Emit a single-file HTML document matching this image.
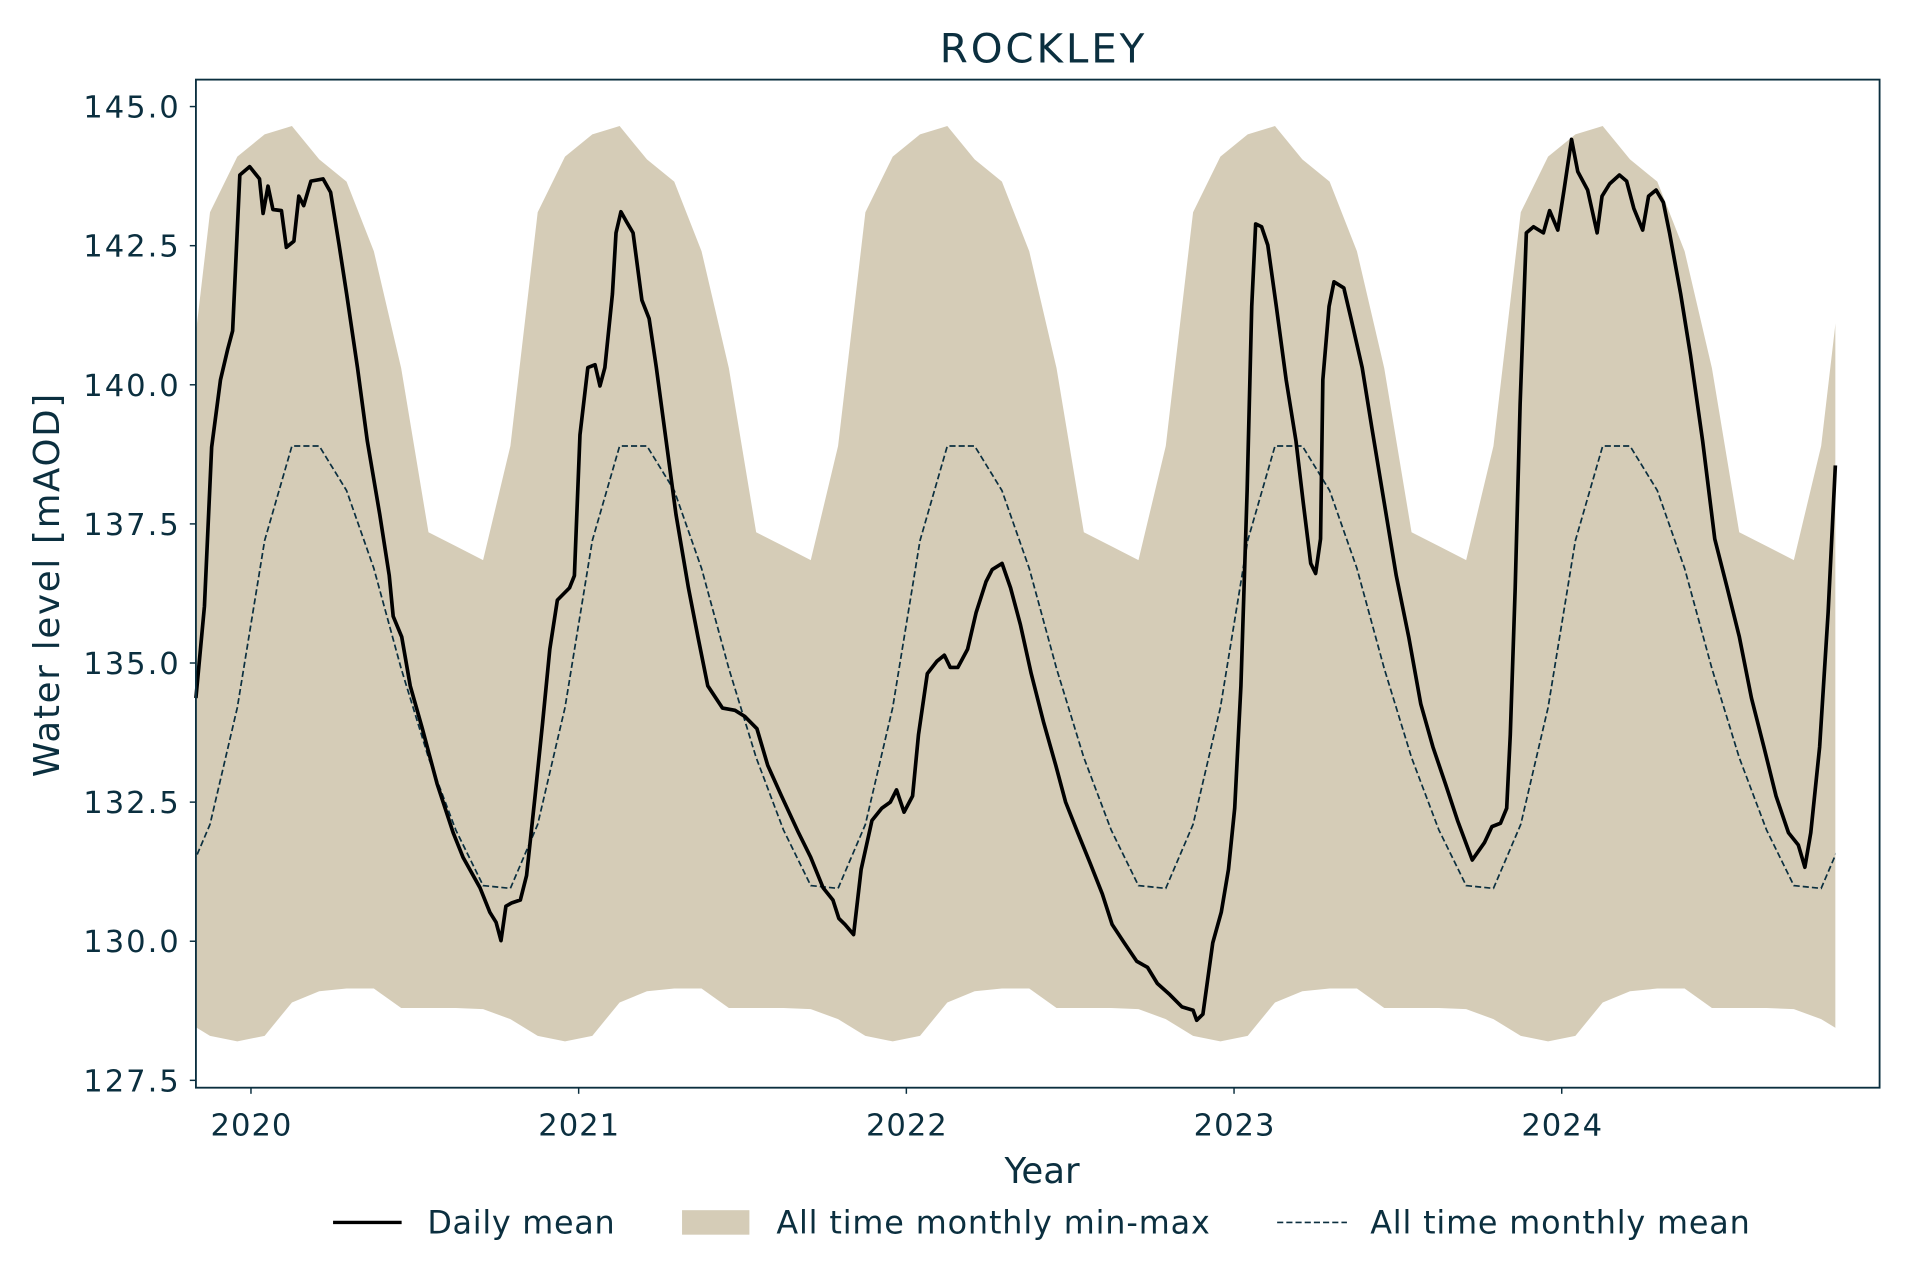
<!DOCTYPE html>
<html><head><meta charset="utf-8"><style>
html,body{margin:0;padding:0;background:#fff;}
svg{display:block;font-family:"DejaVu Sans","Liberation Sans",sans-serif;}
</style></head><body>
<svg id="chart" width="1920" height="1280" viewBox="0 0 1568 1045" preserveAspectRatio="none" xmlns="http://www.w3.org/2000/svg">
<defs><clipPath id="bandclip"><rect id="bandclipRect" x="0" y="0" width="0" height="1045"/></clipPath></defs>
<text x="851" y="51" text-anchor="middle" font-size="33" textLength="167" fill="#0b2f3f">ROCKLEY</text>
<g id="plot"></g>
<rect x="160" y="65" width="1375" height="823" fill="none" stroke="#0b2f3f" stroke-width="1.5"/>
<g id="axes"></g>
<text x="851" y="966" text-anchor="middle" font-size="29" fill="#0b2f3f">Year</text>
<text transform="translate(48,478) rotate(-90)" text-anchor="middle" font-size="29" textLength="313" fill="#0b2f3f">Water level [mAOD]</text>
<g>
 <g>
  <line x1="272" y1="998" x2="328" y2="998" stroke="#000" stroke-width="2.8"/>
  <text x="349" y="1007" font-size="26" textLength="153" fill="#0b2f3f">Daily mean</text>
 </g>
 <g>
  <rect x="557" y="988" width="55" height="20" fill="#d5ccb7"/>
  <text x="634" y="1007" font-size="26" textLength="354" fill="#0b2f3f">All time monthly min-max</text>
 </g>
 <g>
  <line x1="1043" y1="998" x2="1100" y2="998" stroke="#0b2f3f" stroke-width="1.4" stroke-dasharray="5,2.5"/>
  <text x="1119" y="1007" font-size="26" textLength="310" fill="#0b2f3f">All time monthly mean</text>
 </g>
</g>
</svg>
<script>
const monthlyMax=[144.5,144.65,144.05,143.65,142.4,140.3,137.35,137.1,136.85,138.9,143.1,144.1];
const monthlyMin=[128.3,128.9,129.1,129.15,129.15,128.8,128.8,128.8,128.78,128.6,128.3,128.2];
const monthlyMean=[137.2,138.9,138.9,138.1,136.7,134.9,133.3,132.0,131.0,130.95,132.1,134.2];
const yTicks=[127.5,130.0,132.5,135.0,137.5,140.0,142.5,145.0];
const xTicks=[2020,2021,2022,2023,2024];
const dailyDates=[2019.832,2019.858,2019.88,2019.907,2019.929,2019.944,2019.966,2019.996,2020.026,2020.037,2020.052,2020.067,2020.093,2020.108,2020.131,2020.146,2020.161,2020.183,2020.22,2020.243,2020.269,2020.292,2020.325,2020.355,2020.393,2020.422,2020.434,2020.46,2020.486,2020.523,2020.568,2020.617,2020.647,2020.699,2020.729,2020.748,2020.763,2020.778,2020.796,2020.822,2020.841,2020.867,2020.89,2020.912,2020.935,2020.972,2020.987,2021.004,2021.028,2021.05,2021.065,2021.08,2021.103,2021.114,2021.129,2021.148,2021.166,2021.193,2021.215,2021.237,2021.267,2021.297,2021.335,2021.364,2021.394,2021.439,2021.477,2021.507,2021.544,2021.577,2021.619,2021.671,2021.708,2021.746,2021.776,2021.794,2021.813,2021.839,2021.862,2021.895,2021.925,2021.951,2021.97,2021.993,2022.019,2022.037,2022.064,2022.093,2022.116,2022.134,2022.157,2022.187,2022.213,2022.243,2022.262,2022.292,2022.318,2022.348,2022.381,2022.419,2022.456,2022.486,2022.523,2022.561,2022.598,2022.628,2022.665,2022.703,2022.736,2022.766,2022.804,2022.841,2022.875,2022.886,2022.905,2022.935,2022.961,2022.983,2023.002,2023.021,2023.04,2023.054,2023.066,2023.084,2023.103,2023.129,2023.159,2023.189,2023.211,2023.234,2023.249,2023.264,2023.271,2023.29,2023.305,2023.335,2023.357,2023.391,2023.421,2023.458,2023.495,2023.533,2023.57,2023.607,2023.645,2023.682,2023.727,2023.764,2023.787,2023.813,2023.832,2023.843,2023.858,2023.873,2023.892,2023.914,2023.944,2023.963,2023.988,2024.007,2024.03,2024.049,2024.079,2024.108,2024.123,2024.146,2024.176,2024.198,2024.22,2024.247,2024.265,2024.288,2024.31,2024.329,2024.363,2024.393,2024.43,2024.467,2024.505,2024.542,2024.579,2024.617,2024.654,2024.692,2024.722,2024.742,2024.76,2024.787,2024.813,2024.835];
const dailyValues=[134.37,136.02,138.88,140.09,140.64,140.97,143.77,143.92,143.70,143.08,143.57,143.15,143.13,142.47,142.58,143.39,143.22,143.66,143.70,143.46,142.51,141.63,140.31,138.99,137.67,136.57,135.84,135.47,134.59,133.82,132.83,131.95,131.51,130.96,130.52,130.34,130.01,130.63,130.69,130.74,131.18,132.61,133.93,135.25,136.13,136.35,136.57,139.10,140.31,140.36,139.98,140.31,141.63,142.73,143.11,142.91,142.73,141.52,141.19,140.31,138.99,137.67,136.35,135.47,134.59,134.19,134.15,134.04,133.82,133.16,132.61,131.95,131.51,130.96,130.74,130.41,130.30,130.12,131.29,132.17,132.39,132.50,132.72,132.32,132.61,133.71,134.81,135.03,135.14,134.92,134.92,135.25,135.91,136.46,136.68,136.79,136.35,135.69,134.81,133.93,133.16,132.50,131.95,131.40,130.85,130.30,129.97,129.64,129.53,129.24,129.04,128.82,128.76,128.58,128.69,129.97,130.52,131.29,132.39,134.59,138.11,141.41,142.89,142.84,142.51,141.41,140.09,138.99,137.89,136.79,136.61,137.23,140.09,141.41,141.85,141.74,141.19,140.31,139.21,137.89,136.57,135.47,134.26,133.49,132.83,132.17,131.46,131.77,132.06,132.12,132.39,133.71,136.35,139.65,142.73,142.84,142.73,143.13,142.78,143.50,144.41,143.83,143.50,142.73,143.39,143.61,143.77,143.66,143.17,142.78,143.39,143.50,143.28,142.73,141.63,140.53,138.99,137.23,136.35,135.47,134.37,133.49,132.61,131.95,131.73,131.33,131.95,133.49,135.91,138.55];

const NS="http://www.w3.org/2000/svg";
const X0=160,X1=1535,Y0=65,Y1=888;
const xMin=2019.832,xMax=2024.97;
const yPix145=87,yPix1275=882;
function xs(t){return X0+(t-xMin)/(xMax-xMin)*(X1-X0);}
function ys(v){return yPix1275+(v-127.5)/(145-127.5)*(yPix145-yPix1275);}
const plot=document.getElementById('plot');
const axes=document.getElementById('axes');
const dStart=dailyDates[0],dEnd=dailyDates[dailyDates.length-1];
const cr=document.getElementById('bandclipRect');
cr.setAttribute('x',xs(dStart));cr.setAttribute('width',xs(dEnd)-xs(dStart));

const mt=[],mx=[],mn=[],mm=[];
for(let y=2019;y<=2024;y++){for(let m=0;m<12;m++){
  const t=y+(m+0.5)/12;
  if(t<2019.7||t>2024.95)continue;
  mt.push(t);mx.push(monthlyMax[m]);mn.push(monthlyMin[m]);mm.push(monthlyMean[m]);}}
let d='';
mt.forEach((t,i)=>{d+=(i?'L':'M')+xs(t).toFixed(2)+','+ys(mx[i]).toFixed(2);});
for(let i=mt.length-1;i>=0;i--)d+='L'+xs(mt[i]).toFixed(2)+','+ys(mn[i]).toFixed(2);
d+='Z';
const band=document.createElementNS(NS,'path');


band.setAttribute('d',d);band.setAttribute('fill','#d5ccb7');band.setAttribute('clip-path','url(#bandclip)');
plot.appendChild(band);

let dm='';
mt.forEach((t,i)=>{dm+=(i?'L':'M')+xs(t).toFixed(2)+','+ys(mm[i]).toFixed(2);});
const meanLine=document.createElementNS(NS,'path');


meanLine.setAttribute('d',dm);meanLine.setAttribute('fill','none');meanLine.setAttribute('stroke','#0b2f3f');
meanLine.setAttribute('stroke-width','1.4');meanLine.setAttribute('stroke-dasharray','5,2.5');meanLine.setAttribute('clip-path','url(#bandclip)');
plot.appendChild(meanLine);

let dd='';
dailyDates.forEach((t,i)=>{dd+=(i?'L':'M')+xs(t).toFixed(2)+','+ys(dailyValues[i]).toFixed(2);});
const daily=document.createElementNS(NS,'path');


daily.setAttribute('d',dd);daily.setAttribute('fill','none');daily.setAttribute('stroke','#000');
daily.setAttribute('stroke-width','3');daily.setAttribute('stroke-linejoin','round');
plot.appendChild(daily);

yTicks.forEach(v=>{
  const y=ys(v);
  const l=document.createElementNS(NS,'line');
  
  
  l.setAttribute('x1',155);l.setAttribute('x2',160);l.setAttribute('y1',y);l.setAttribute('y2',y);
  l.setAttribute('stroke','#0b2f3f');l.setAttribute('stroke-width','1.2');axes.appendChild(l);
  const tx=document.createElementNS(NS,'text');
  
  
  tx.setAttribute('x',146);tx.setAttribute('y',y+9);tx.setAttribute('text-anchor','end');
  tx.setAttribute('font-size','25');tx.setAttribute('textLength','78');tx.setAttribute('fill','#0b2f3f');tx.textContent=v.toFixed(1);axes.appendChild(tx);
});
xTicks.forEach(v=>{
  const x=xs(v);
  const l=document.createElementNS(NS,'line');
  
  
  l.setAttribute('x1',x);l.setAttribute('x2',x);l.setAttribute('y1',888);l.setAttribute('y2',893);
  l.setAttribute('stroke','#0b2f3f');l.setAttribute('stroke-width','1.2');axes.appendChild(l);
  const tx=document.createElementNS(NS,'text');
  
  
  tx.setAttribute('x',x);tx.setAttribute('y',927);tx.setAttribute('text-anchor','middle');
  tx.setAttribute('font-size','25');tx.setAttribute('textLength','66');tx.setAttribute('fill','#0b2f3f');tx.textContent=v;axes.appendChild(tx);
});
</script>
</body></html>
